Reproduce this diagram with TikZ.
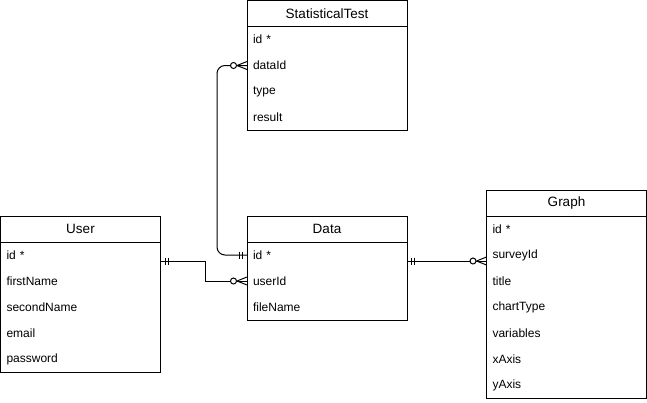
\documentclass[tikz,border=0pt]{standalone}
\usepackage{fontspec}
\setmainfont{Liberation Sans}
\usetikzlibrary{positioning,calc}

\tikzset{
  tblhead/.style={draw, minimum width=160pt, minimum height=26pt, inner sep=0pt,
    outer sep=0pt, font=\fontsize{13.5}{16}\selectfont},
  tblrow/.style={minimum height=26pt, inner xsep=6pt, inner ysep=0pt, outer sep=0pt,
    text width=148pt, align=left, font=\fontsize{12}{14}\selectfont},
}

% two bars: #1 = point on the box edge, #2 = side (1 right, -1 left)
\newcommand{\mandone}[2]{%
  \draw ($(#1)+(#2*4.5,-3.5)$) -- ++(0,7) ($(#1)+(#2*7.5,-3.5)$) -- ++(0,7);}
% circle and crow's foot
\newcommand{\zeromany}[2]{%
  \draw ($(#1)+(#2*10,0)$) -- ($(#1)+(0,-4)$) ($(#1)+(#2*10,0)$) -- ($(#1)+(0,4)$);
  \draw[fill=white] ($(#1)+(#2*13.5,0)$) circle (3pt);}

\begin{document}
\begin{tikzpicture}[x=1pt,y=-1pt,line width=1pt]
  \useasboundingbox (0,0) rectangle (647,402);

  % StatisticalTest
  \node[tblhead, anchor=north west] (stat) at (247,0.5) {StatisticalTest};
  \node[tblrow, below=0pt of stat] (stat-id) {id *};
  \node[tblrow, below=0pt of stat-id] (stat-data) {dataId};
  \node[tblrow, below=0pt of stat-data] (stat-type) {type};
  \node[tblrow, below=0pt of stat-type] (stat-res) {result};
  \draw (stat.north west) rectangle (stat-res.south east);

  % User
  \node[tblhead, anchor=north west] (user) at (0.5,216) {User};
  \node[tblrow, below=0pt of user] (user-id) {id *};
  \node[tblrow, below=0pt of user-id] (user-first) {firstName};
  \node[tblrow, below=0pt of user-first] (user-second) {secondName};
  \node[tblrow, below=0pt of user-second] (user-mail) {email};
  \node[tblrow, below=0pt of user-mail] (user-pass) {password};
  \draw (user.north west) rectangle (user-pass.south east);

  % Data
  \node[tblhead, anchor=north west] (data) at (247,216) {Data};
  \node[tblrow, below=0pt of data] (data-id) {id *};
  \node[tblrow, below=0pt of data-id] (data-user) {userId};
  \node[tblrow, below=0pt of data-user] (data-file) {fileName};
  \draw (data.north west) rectangle (data-file.south east);

  % Graph
  \node[tblhead, anchor=north west] (graph) at (486.5,190) {Graph};
  \node[tblrow, below=0pt of graph] (graph-id) {id *};
  \node[tblrow, below=0pt of graph-id] (graph-survey) {surveyId};
  \node[tblrow, below=0pt of graph-survey] (graph-title) {title};
  \node[tblrow, below=0pt of graph-title] (graph-chart) {chartType};
  \node[tblrow, below=0pt of graph-chart] (graph-vars) {variables};
  \node[tblrow, below=0pt of graph-vars] (graph-x) {xAxis};
  \node[tblrow, below=0pt of graph-x] (graph-y) {yAxis};
  \draw (graph.north west) rectangle (graph-y.south east);

  % relations
  \coordinate (user-out) at ([yshift=-6pt]user-id.east);
  \coordinate (data-out) at ([yshift=-6pt]data-id.east);
  \coordinate (graph-in) at ([yshift=-6pt]graph-survey.west);
  \draw (user-out) -- ++(45,0) |- (data-user.west);
  \draw[rounded corners=8pt] (data-id.west) -- ++(-30,0) |- (stat-data.west);
  \draw (data-out) -- (graph-in);

  \mandone{user-out}{1}
  \zeromany{data-user.west}{-1}
  \mandone{data-id.west}{-1}
  \zeromany{stat-data.west}{-1}
  \mandone{data-out}{1}
  \zeromany{graph-in}{-1}
\end{tikzpicture}
\end{document}
